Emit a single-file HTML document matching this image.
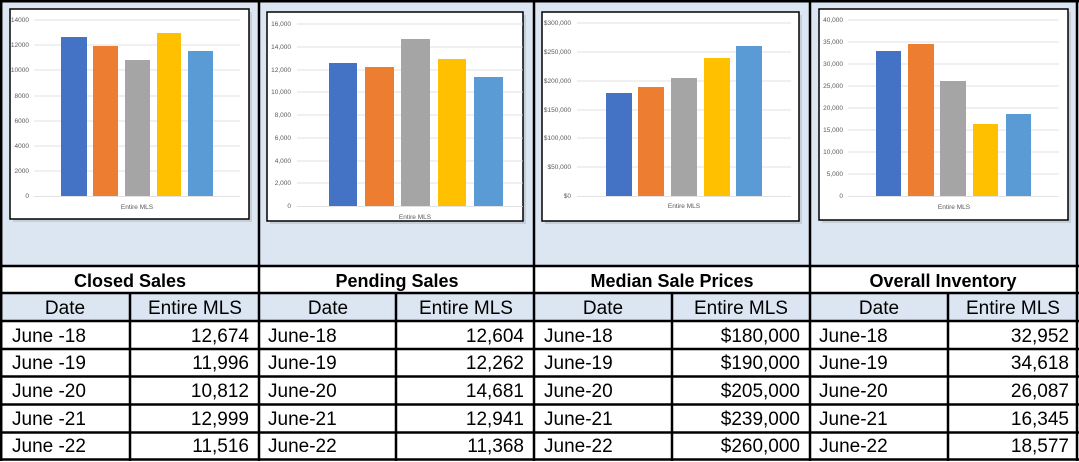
<!DOCTYPE html>
<html><head><meta charset="utf-8"><style>
html,body{margin:0;padding:0;background:#fff;}
svg{display:block;font-family:"Liberation Sans",sans-serif;}
.t{font-size:6.5px;fill:#595959;}
.h{font-size:18px;font-weight:bold;fill:#000;}
.s{font-size:19px;fill:#000;}
.d{font-size:19px;fill:#000;}
</style></head><body>
<svg width="1079" height="462" viewBox="0 0 1079 462" xmlns="http://www.w3.org/2000/svg">
<rect x="0" y="0" width="1079" height="266" fill="#dce6f2"/>
<rect x="0" y="293" width="1079" height="28" fill="#dce6f2"/>

<!-- Chart 1 -->
<rect x="13" y="12" width="239" height="210" fill="#b8bec6" opacity="0.6"/>
<rect x="10" y="9" width="239" height="210" fill="#fff" stroke="#000" stroke-width="1.5"/>
<g stroke="#d9d9d9" stroke-width="0.8">
<line x1="34" x2="240" y1="20" y2="20"/><line x1="34" x2="240" y1="45" y2="45"/><line x1="34" x2="240" y1="70" y2="70"/><line x1="34" x2="240" y1="96" y2="96"/><line x1="34" x2="240" y1="121" y2="121"/><line x1="34" x2="240" y1="146" y2="146"/><line x1="34" x2="240" y1="171" y2="171"/><line x1="34" x2="240" y1="196.5" y2="196.5"/>
</g>
<g class="t" text-anchor="end">
<text x="29" y="22">14000</text><text x="29" y="47">12000</text><text x="29" y="72">10000</text><text x="29" y="98">8000</text><text x="29" y="123">6000</text><text x="29" y="148">4000</text><text x="29" y="173">2000</text><text x="29" y="198">0</text>
</g>
<rect x="61" y="37" width="26" height="159" fill="#4472c4"/>
<rect x="93" y="46" width="25" height="150" fill="#ed7d31"/>
<rect x="125" y="60" width="25" height="136" fill="#a5a5a5"/>
<rect x="157" y="33" width="24" height="163" fill="#ffc000"/>
<rect x="188" y="51" width="25" height="145" fill="#5b9bd5"/>
<text class="t" x="137" y="209" text-anchor="middle">Entire MLS</text>

<!-- Chart 2 -->
<rect x="270" y="15" width="256" height="209" fill="#b8bec6" opacity="0.6"/>
<rect x="267" y="12" width="256" height="209" fill="#fff" stroke="#000" stroke-width="1.5"/>
<g stroke="#d9d9d9" stroke-width="0.8">
<line x1="297" x2="523" y1="24" y2="24"/><line x1="297" x2="523" y1="47" y2="47"/><line x1="297" x2="523" y1="70" y2="70"/><line x1="297" x2="523" y1="92" y2="92"/><line x1="297" x2="523" y1="115" y2="115"/><line x1="297" x2="523" y1="138" y2="138"/><line x1="297" x2="523" y1="161" y2="161"/><line x1="297" x2="523" y1="183" y2="183"/><line x1="297" x2="523" y1="206.5" y2="206.5"/>
</g>
<g class="t" text-anchor="end">
<text x="291" y="26">16,000</text><text x="291" y="49">14,000</text><text x="291" y="72">12,000</text><text x="291" y="94">10,000</text><text x="291" y="117">8,000</text><text x="291" y="140">6,000</text><text x="291" y="163">4,000</text><text x="291" y="185">2,000</text><text x="291" y="208">0</text>
</g>
<rect x="329" y="63" width="28" height="143" fill="#4472c4"/>
<rect x="365" y="67" width="29" height="139" fill="#ed7d31"/>
<rect x="401" y="39" width="29" height="167" fill="#a5a5a5"/>
<rect x="438" y="59" width="28" height="147" fill="#ffc000"/>
<rect x="474" y="77" width="29" height="129" fill="#5b9bd5"/>
<text class="t" x="415" y="219" text-anchor="middle">Entire MLS</text>

<!-- Chart 3 -->
<rect x="545" y="15" width="257" height="209" fill="#b8bec6" opacity="0.6"/>
<rect x="542" y="12" width="257" height="209" fill="#fff" stroke="#000" stroke-width="1.5"/>
<g stroke="#d9d9d9" stroke-width="0.8">
<line x1="577" x2="791" y1="23" y2="23"/><line x1="577" x2="791" y1="52" y2="52"/><line x1="577" x2="791" y1="81" y2="81"/><line x1="577" x2="791" y1="110" y2="110"/><line x1="577" x2="791" y1="138" y2="138"/><line x1="577" x2="791" y1="167" y2="167"/><line x1="577" x2="791" y1="196.5" y2="196.5"/>
</g>
<g class="t" text-anchor="end">
<text x="571" y="25">$300,000</text><text x="571" y="54">$250,000</text><text x="571" y="83">$200,000</text><text x="571" y="112">$150,000</text><text x="571" y="140">$100,000</text><text x="571" y="169">$50,000</text><text x="571" y="198">$0</text>
</g>
<rect x="606" y="93" width="26" height="103" fill="#4472c4"/>
<rect x="638" y="87" width="26" height="109" fill="#ed7d31"/>
<rect x="671" y="78" width="26" height="118" fill="#a5a5a5"/>
<rect x="704" y="58" width="26" height="138" fill="#ffc000"/>
<rect x="736" y="46" width="26" height="150" fill="#5b9bd5"/>
<text class="t" x="684" y="208" text-anchor="middle">Entire MLS</text>

<!-- Chart 4 -->
<rect x="822" y="12" width="249" height="211" fill="#b8bec6" opacity="0.6"/>
<rect x="819" y="9" width="249" height="211" fill="#fff" stroke="#000" stroke-width="1.5"/>
<g stroke="#d9d9d9" stroke-width="0.8">
<line x1="848" x2="1059" y1="20" y2="20"/><line x1="848" x2="1059" y1="42" y2="42"/><line x1="848" x2="1059" y1="64" y2="64"/><line x1="848" x2="1059" y1="86" y2="86"/><line x1="848" x2="1059" y1="108" y2="108"/><line x1="848" x2="1059" y1="130" y2="130"/><line x1="848" x2="1059" y1="152" y2="152"/><line x1="848" x2="1059" y1="174" y2="174"/><line x1="848" x2="1059" y1="196.5" y2="196.5"/>
</g>
<g class="t" text-anchor="end">
<text x="843" y="22">40,000</text><text x="843" y="44">35,000</text><text x="843" y="66">30,000</text><text x="843" y="88">25,000</text><text x="843" y="110">20,000</text><text x="843" y="132">15,000</text><text x="843" y="154">10,000</text><text x="843" y="176">5,000</text><text x="843" y="198">0</text>
</g>
<rect x="876" y="51" width="25" height="145" fill="#4472c4"/>
<rect x="908" y="44" width="26" height="152" fill="#ed7d31"/>
<rect x="940" y="81" width="26" height="115" fill="#a5a5a5"/>
<rect x="973" y="124" width="25" height="72" fill="#ffc000"/>
<rect x="1006" y="114" width="25" height="82" fill="#5b9bd5"/>
<text class="t" x="954" y="209" text-anchor="middle">Entire MLS</text>

<!-- Table grid -->
<g stroke="#000" stroke-width="2.5">
<line x1="0" x2="1079" y1="1.2" y2="1.2"/>
<line x1="0" x2="1079" y1="266" y2="266"/>
<line x1="0" x2="1079" y1="293" y2="293"/>
<line x1="0" x2="1079" y1="321" y2="321"/>
<line x1="0" x2="1079" y1="349" y2="349"/>
<line x1="0" x2="1079" y1="376.5" y2="376.5"/>
<line x1="0" x2="1079" y1="404.5" y2="404.5"/>
<line x1="0" x2="1079" y1="432.5" y2="432.5"/>
<line x1="0" x2="1079" y1="459.5" y2="459.5"/>
<line x1="1.2" x2="1.2" y1="0" y2="461"/>
<line x1="259" x2="259" y1="0" y2="461"/>
<line x1="534" x2="534" y1="0" y2="461"/>
<line x1="810" x2="810" y1="0" y2="461"/>
<line x1="1077" x2="1077" y1="0" y2="461"/>
<line x1="130" x2="130" y1="293" y2="461"/>
<line x1="396" x2="396" y1="293" y2="461"/>
<line x1="672" x2="672" y1="293" y2="461"/>
<line x1="948" x2="948" y1="293" y2="461"/>
</g>

<g class="h" text-anchor="middle">
<text x="130" y="287">Closed Sales</text>
<text x="397" y="287">Pending Sales</text>
<text x="672" y="287">Median Sale Prices</text>
<text x="943" y="287">Overall Inventory</text>
</g>
<g class="s" text-anchor="middle">
<text x="65" y="314">Date</text><text x="195" y="314">Entire MLS</text>
<text x="328" y="314">Date</text><text x="466" y="314">Entire MLS</text>
<text x="603" y="314">Date</text><text x="741" y="314">Entire MLS</text>
<text x="879" y="314">Date</text><text x="1013" y="314">Entire MLS</text>
</g>
<g class="d">
<text x="12" y="342">June -18</text><text x="12" y="369">June -19</text><text x="12" y="397">June -20</text><text x="12" y="425">June -21</text><text x="12" y="452">June -22</text>
<text x="268" y="342">June-18</text><text x="268" y="369">June-19</text><text x="268" y="397">June-20</text><text x="268" y="425">June-21</text><text x="268" y="452">June-22</text>
<text x="544" y="342">June-18</text><text x="544" y="369">June-19</text><text x="544" y="397">June-20</text><text x="544" y="425">June-21</text><text x="544" y="452">June-22</text>
<text x="819" y="342">June-18</text><text x="819" y="369">June-19</text><text x="819" y="397">June-20</text><text x="819" y="425">June-21</text><text x="819" y="452">June-22</text>
</g>
<g class="d" text-anchor="end">
<text x="249" y="342">12,674</text><text x="249" y="369">11,996</text><text x="249" y="397">10,812</text><text x="249" y="425">12,999</text><text x="249" y="452">11,516</text>
<text x="524" y="342">12,604</text><text x="524" y="369">12,262</text><text x="524" y="397">14,681</text><text x="524" y="425">12,941</text><text x="524" y="452">11,368</text>
<text x="800" y="342">$180,000</text><text x="800" y="369">$190,000</text><text x="800" y="397">$205,000</text><text x="800" y="425">$239,000</text><text x="800" y="452">$260,000</text>
<text x="1069" y="342">32,952</text><text x="1069" y="369">34,618</text><text x="1069" y="397">26,087</text><text x="1069" y="425">16,345</text><text x="1069" y="452">18,577</text>
</g>
</svg>
</body></html>
